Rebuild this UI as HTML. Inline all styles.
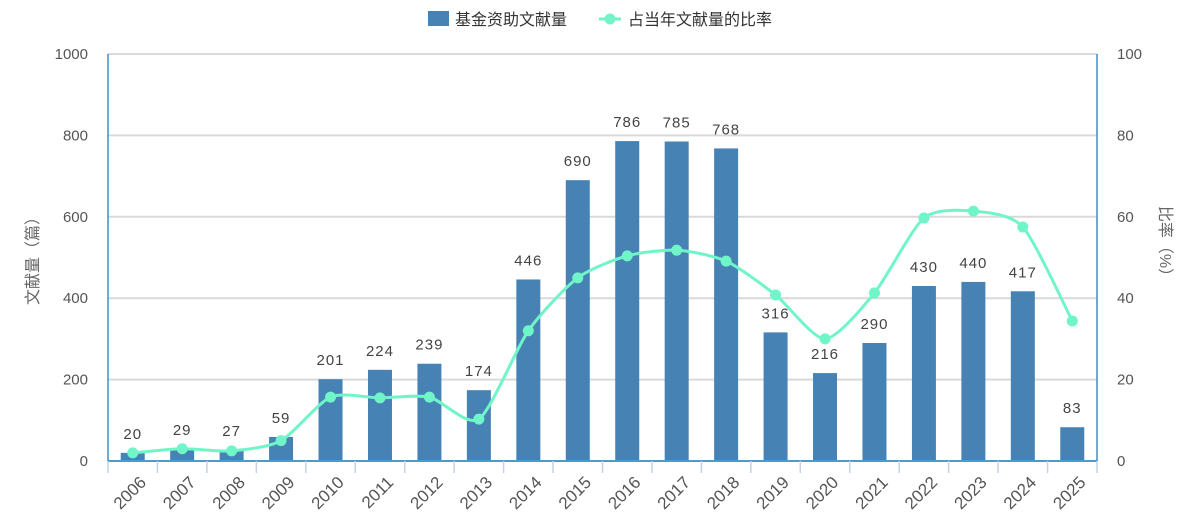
<!DOCTYPE html>
<html><head><meta charset="utf-8"><style>
body{margin:0;background:#fff;}
svg{display:block;font-family:"Liberation Sans","Noto Sans CJK SC",sans-serif;}
</style></head><body>
<svg id="c" width="1187" height="519" viewBox="0 0 1187 519"></svg>
<script>
const years=["2006","2007","2008","2009","2010","2011","2012","2013","2014","2015","2016","2017","2018","2019","2020","2021","2022","2023","2024","2025"];
const counts=[20,29,27,59,201,224,239,174,446,690,786,785,768,316,216,290,430,440,417,83];
const ratios=[2.0,3.0,2.5,5.0,15.7,15.5,15.7,10.3,32,45,50.4,51.8,49.1,40.8,30,41.3,59.7,61.4,57.5,34.4];
const leftTicks=[0,200,400,600,800,1000];
const rightTicks=[0,20,40,60,80,100];
const NS="http://www.w3.org/2000/svg";
const svg=document.getElementById('c');
const X0=108,X1=1097,Y0=461,Y1=54;
const bw=(X1-X0)/years.length;
const xc=i=>X0+bw*(i+0.5);
const yL=v=>Y0-(Y0-Y1)*v/1000;
const yR=v=>Y0-(Y0-Y1)*v/100;
function mk(t,a,txt){const e=document.createElementNS(NS,t);for(const k in a)e.setAttribute(k,a[k]);if(txt!==undefined)e.textContent=txt;svg.appendChild(e);return e;}
leftTicks.forEach((t,i)=>{
 if(t>0){const g=mk('line',{x1:X0,x2:X1,y1:yL(t),y2:yL(t),stroke:'#d9d9d9','stroke-width':2});
 
 }
 const l=mk('text',{x:88,y:yL(t)+5,'text-anchor':'end','font-size':15,fill:'#555'},t);
 
 
});
rightTicks.forEach(t=>{
 const l=mk('text',{x:1117,y:yR(t)+5,'font-size':15,fill:'#555'},t);
 
 
});
counts.forEach((v,i)=>{
 const r=mk('rect',{x:xc(i)-12,y:yL(v),width:24,height:Y0-yL(v),fill:'#4682b4'});
 
 
 const t=mk('text',{x:xc(i),y:yL(v)-14,'text-anchor':'middle','font-size':15,fill:'#444','letter-spacing':1},v);
 
 
});
const ax=mk('line',{x1:X0,x2:X1,y1:Y0,y2:Y0,stroke:'#4a9bd0','stroke-width':2});


const la=mk('line',{x1:X0,x2:X0,y1:Y1,y2:Y0,stroke:'#3a8fc9','stroke-width':1.5});


const ra=mk('line',{x1:X1,x2:X1,y1:Y1,y2:Y0,stroke:'#3a8fc9','stroke-width':1.5});


for(let i=0;i<=years.length;i++){
 const x=X0+bw*i;
 const tk=mk('line',{x1:x,x2:x,y1:Y0,y2:Y0+12,stroke:'#c5d3e3','stroke-width':1.5});
 
 
}
years.forEach((y,i)=>{
 const x=xc(i)+6,yy=Y0+14;
 const t=mk('text',{x:x,y:yy,'text-anchor':'end','font-size':17,fill:'#555',transform:`rotate(-45 ${x} ${yy})`,dy:12},y);
 
 
});
const pts=ratios.map((v,i)=>[xc(i),yR(v)]);
let d=`M${pts[0][0]},${pts[0][1]}`;
const s=0.12;
for(let i=0;i<pts.length-1;i++){
 const p0=pts[Math.max(i-1,0)],p1=pts[i],p2=pts[i+1],p3=pts[Math.min(i+2,pts.length-1)];
 d+=` C${p1[0]+(p2[0]-p0[0])*s},${p1[1]+(p2[1]-p0[1])*s} ${p2[0]-(p3[0]-p1[0])*s},${p2[1]-(p3[1]-p1[1])*s} ${p2[0]},${p2[1]}`;
}
const ln=mk('path',{d:d,fill:'none',stroke:'#6ff5c8','stroke-width':3});


pts.forEach((p,i)=>{
 const c=mk('circle',{cx:p[0],cy:p[1],r:5.5,fill:'#6ff5c8'});
 
 
});
const lt=mk('text',{x:38,y:257,'text-anchor':'middle','font-size':16,fill:'#666',transform:'rotate(-90 38 257)'},'文献量（篇）');


const rt=mk('text',{x:1160,y:245,'text-anchor':'middle','font-size':16,fill:'#666',transform:'rotate(90 1160 245)'},'比率（%）');


const lr=mk('rect',{x:428,y:11,width:21,height:15,fill:'#4682b4'});


const l1=mk('text',{x:455,y:25,'font-size':16,fill:'#333'},'基金资助文献量');


const ll=mk('line',{x1:599,x2:621,y1:19,y2:19,stroke:'#6ff5c8','stroke-width':3});


const lc=mk('circle',{cx:610,cy:19,r:5.5,fill:'#6ff5c8'});


const l2=mk('text',{x:628,y:25,'font-size':16,fill:'#333'},'占当年文献量的比率');


</script>
</body></html>
